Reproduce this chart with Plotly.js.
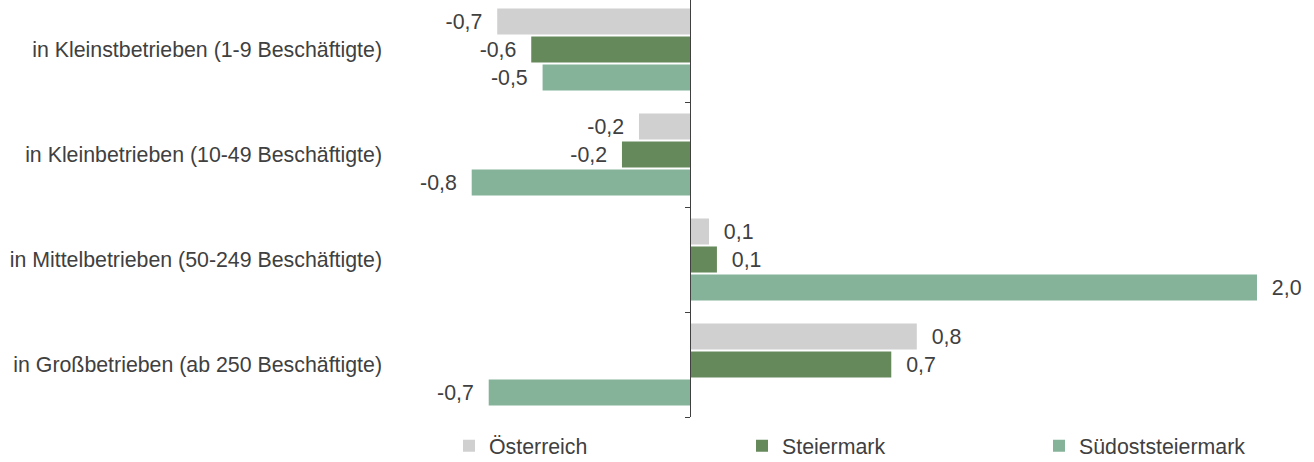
<!DOCTYPE html>
<html>
<head>
<meta charset="utf-8">
<script src="https://cdn.plot.ly/plotly-3.0.1.min.js"></script>
<style>
  html, body { margin: 0; padding: 0; background: #ffffff; }
  #chart { width: 1314px; height: 462px; }
</style>
</head>
<body>
<div id="chart"></div>
<script>
// ---- data ----
const categories = [
  'in Kleinstbetrieben (1-9 Beschäftigte)',
  'in Kleinbetrieben (10-49 Beschäftigte)',
  'in Mittelbetrieben (50-249 Beschäftigte)',
  'in Großbetrieben (ab 250 Beschäftigte)'
];
const seriesNames = ['Österreich', 'Steiermark', 'Südoststeiermark'];
const oesterreich = [-0.68, -0.18, 0.067, 0.80];
const steiermark = [-0.56, -0.24, 0.095, 0.71];
const suedoststeiermark = [-0.52, -0.77, 2.0, -0.71];
const boundaries = [0.5, 1.5, 2.5, 3.5];

// ---- styles ----
const colors = ['#D0D0D0', '#66895C', '#84B39A'];
const legendWidths = [248, 252, 200];
const textColor = '#404040';
const axisColor = '#404040';
const fontFamily = '"Liberation Sans", Arial, sans-serif';
const fontSize = 21.33;
const NB = '\u00A0\u00A0';

function fmt(v) {
  const s = (v < 0 ? '-' : '') + Math.abs(v).toFixed(1).replace('.', ',');
  return v < 0 ? s + NB : NB + s;
}

const seriesValues = [oesterreich, steiermark, suedoststeiermark];
const traces = seriesValues.map((vals, i) => ({
  type: 'bar',
  orientation: 'h',
  name: seriesNames[i],
  legendwidth: legendWidths[i],
  y: categories,
  x: vals,
  marker: { color: colors[i] },
  text: vals.map(fmt),
  textposition: 'outside',
  constraintext: 'none',
  cliponaxis: false,
  textfont: { family: fontFamily, size: fontSize, color: textColor },
  hoverinfo: 'skip'
}));

// empty helper trace so the axis at zero (with category boundary ticks) is drawn
traces.push({ type: 'scatter', x: [], y: [], yaxis: 'y2', showlegend: false, hoverinfo: 'skip' });

const xMin = -1.0582, xMax = 2.1517;
const yRange = [3.5, -0.4714];

const layout = {
  width: 1314,
  height: 462,
  margin: { l: 390, r: 14, t: 0, b: 45, autoexpand: false },
  paper_bgcolor: '#ffffff',
  plot_bgcolor: '#ffffff',
  barmode: 'group',
  bargap: 0.2,
  bargroupgap: 0.07,
  font: { family: fontFamily, size: fontSize, color: textColor },
  showlegend: true,
  legend: {
    orientation: 'h',
    x: (449 - 390) / 910,
    xanchor: 'left',
    y: -0.0695,
    yanchor: 'middle',
    traceorder: 'normal',
    font: { family: fontFamily, size: fontSize, color: textColor },
    bgcolor: 'rgba(0,0,0,0)'
  },
  xaxis: {
    range: [xMin, xMax],
    showgrid: false,
    zeroline: false,
    showticklabels: false,
    ticks: '',
    showline: false,
    fixedrange: true
  },
  yaxis: {
    type: 'category',
    range: yRange,
    showgrid: false,
    zeroline: false,
    showline: false,
    ticks: '',
    ticklabelstandoff: 7,
    tickfont: { family: fontFamily, size: fontSize, color: textColor },
    fixedrange: true
  },
  yaxis2: {
    overlaying: 'y',
    anchor: 'free',
    position: (0 - xMin) / (xMax - xMin),
    type: 'linear',
    range: yRange,
    showgrid: false,
    zeroline: false,
    showline: true,
    linecolor: axisColor,
    linewidth: 1,
    ticks: 'outside',
    ticklen: 5,
    tickcolor: axisColor,
    tickwidth: 1,
    tickmode: 'array',
    tickvals: boundaries,
    showticklabels: false,
    fixedrange: true
  }
};

Plotly.newPlot('chart', traces, layout, { staticPlot: true, displayModeBar: false });
</script>
</body>
</html>
